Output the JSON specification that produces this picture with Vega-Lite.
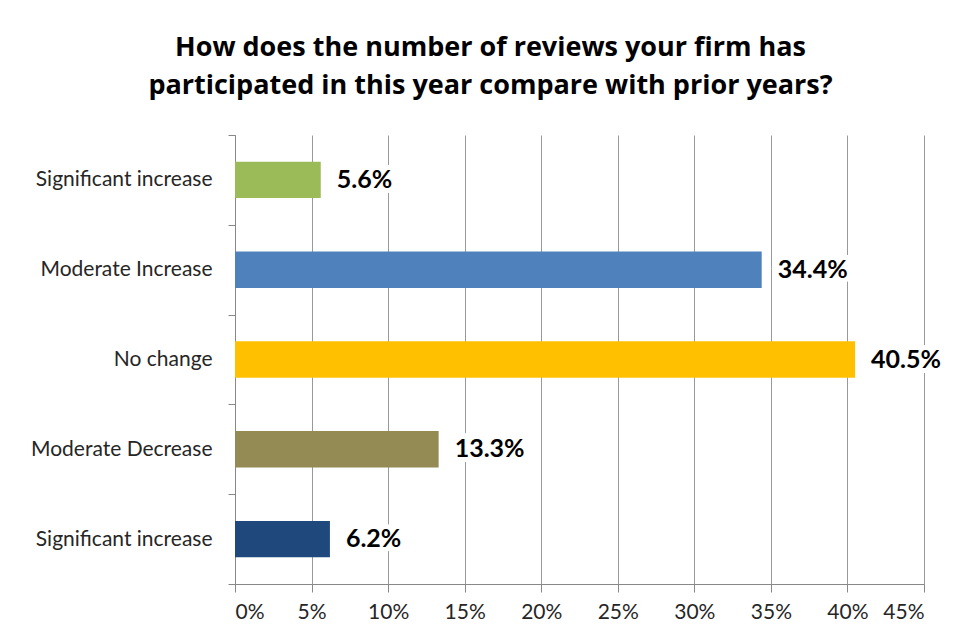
{
  "$schema": "https://vega.github.io/schema/vega-lite/v6.json",
  "width": 689,
  "height": 449,
  "autosize": "none",
  "padding": {"left": 235, "top": 135, "right": 34, "bottom": 54},
  "background": "white",
  "title": {
    "text": ["How does the number of reviews your firm has", "participated in this year compare with prior years?"],
    "font": "Open Sans",
    "fontSize": 27,
    "fontWeight": "bold",
    "color": "#000000",
    "anchor": "middle",
    "frame": "group",
    "dx": -89,
    "offset": 24,
    "lineHeight": 38
  },
  "config": {
    "view": {"stroke": null},
    "font": "Lato"
  },
  "data": {
    "values": [
      {"category": "Significant increase", "pct": 5.6, "label": "5.6%"},
      {"category": "Moderate Increase", "pct": 34.4, "label": "34.4%"},
      {"category": "No change", "pct": 40.5, "label": "40.5%"},
      {"category": "Moderate Decrease", "pct": 13.3, "label": "13.3%"},
      {"category": "Significant increase ", "pct": 6.2, "label": "6.2%"}
    ]
  },
  "encoding": {
    "y": {
      "field": "category",
      "type": "nominal",
      "sort": null,
      "scale": {"paddingInner": 0, "paddingOuter": 0},
      "axis": {
        "title": null,
        "domainColor": "#888888",
        "tickColor": "#888888",
        "tickSize": 7,
        "tickBand": "extent",
        "labelFont": "Lato",
        "labelFontSize": 21,
        "labelLimit": 400,
        "labelColor": "#262626",
        "labelPadding": 16,
        "grid": false
      }
    },
    "x": {
      "field": "pct",
      "type": "quantitative",
      "scale": {"domain": [0, 45], "nice": false},
      "axis": {
        "title": null,
        "values": [0, 5, 10, 15, 20, 25, 30, 35, 40, 45],
        "labelExpr": "datum.value + '%'",
        "domainColor": "#888888",
        "tickColor": "#888888",
        "tickSize": 8,
        "gridColor": "#999999",
        "gridWidth": 1,
        "labelFont": "Lato",
        "labelFontSize": 21,
        "labelColor": "#262626",
        "labelPadding": 9
      }
    }
  },
  "layer": [
    {
      "mark": {"type": "bar", "height": {"band": 0.405}},
      "encoding": {
        "color": {
          "field": "category",
          "type": "nominal",
          "legend": null,
          "scale": {
            "domain": ["Significant increase", "Moderate Increase", "No change", "Moderate Decrease", "Significant increase "],
            "range": ["#9BBB59", "#4F81BD", "#FFC000", "#948A54", "#1F497D"]
          }
        }
      }
    },
    {
      "mark": {"type": "text", "align": "left", "baseline": "middle", "dx": 16, "font": "Lato", "fontSize": 25, "fontWeight": "bold", "stroke": "white", "strokeWidth": 10, "fill": "white"},
      "encoding": {"text": {"field": "label"}}
    },
    {
      "mark": {"type": "text", "align": "left", "baseline": "middle", "dx": 16, "font": "Lato", "fontSize": 25, "fontWeight": "bold", "color": "#000000"},
      "encoding": {"text": {"field": "label"}}
    }
  ]
}
